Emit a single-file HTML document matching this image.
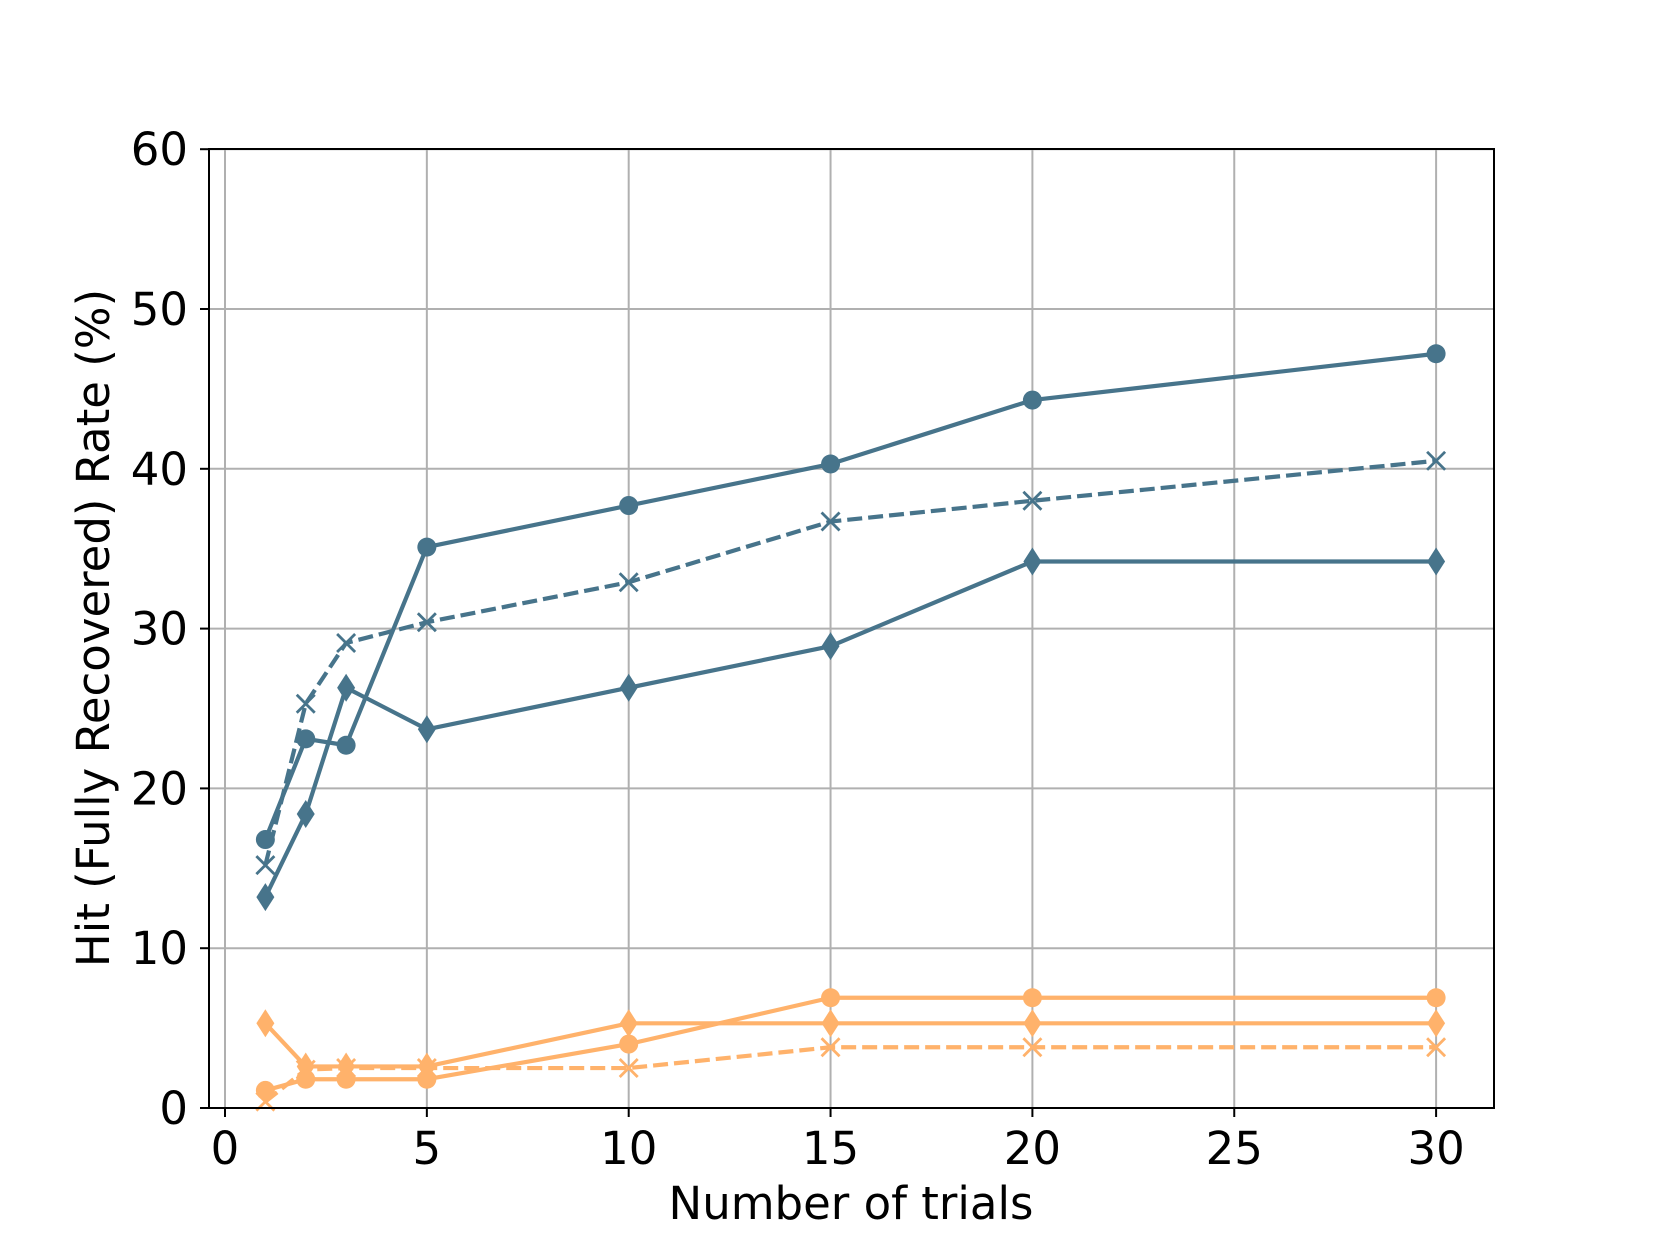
<!DOCTYPE html>
<html><head><meta charset="utf-8"><style>
body{margin:0;background:#fff}
svg{display:block}
text{font-family:"DejaVu Sans","Liberation Sans",sans-serif;fill:#000}
</style></head><body>
<svg id="chart" width="1661" height="1246" xmlns="http://www.w3.org/2000/svg">
<g id="grid"></g>
<g id="series"></g>
<rect x="209" y="149" width="1285" height="959" fill="none" stroke="#000" stroke-width="2"/>
<g id="ticks"></g>
<text x="851" y="1219" font-size="45" text-anchor="middle">Number of trials</text>
<text transform="translate(109,628) rotate(-90)" font-size="45" text-anchor="middle">Hit (Fully Recovered) Rate (%)</text>
</svg>
<script>
const trials=[1,2,3,5,10,15,20,30];
const blueCircle=[16.8,23.1,22.7,35.1,37.7,40.3,44.3,47.2];
const blueCross=[15.2,25.3,29.1,30.4,32.9,36.7,38.0,40.5];
const blueDiamond=[13.2,18.4,26.3,23.7,26.3,28.9,34.2,34.2];
const orangeCircle=[1.1,1.8,1.8,1.8,4.0,6.9,6.9,6.9];
const orangeDiamond=[5.3,2.6,2.6,2.6,5.3,5.3,5.3,5.3];
const orangeCross=[0.4,2.4,2.5,2.5,2.5,3.8,3.8,3.8];
const xTicks=[0,5,10,15,20,25,30];
const yTicks=[0,10,20,30,40,50,60];
const X=v=>225+(v)*40.37, Y=v=>1108-v*15.98;
const NS="http://www.w3.org/2000/svg";
function mk(p,t,a){const e=document.createElementNS(NS,t);for(const k in a)e.setAttribute(k,a[k]);p.appendChild(e);return e;}
const grid=document.getElementById('grid'),ticks=document.getElementById('ticks'),ser=document.getElementById('series');
xTicks.forEach(v=>{
 const g=mk(grid,'line',{x1:X(v),x2:X(v),y1:149,y2:1108,stroke:'#b0b0b0','stroke-width':2});
 
 
 const t=mk(ticks,'line',{x1:X(v),x2:X(v),y1:1108,y2:1117,stroke:'#000','stroke-width':2});
 
 
 const l=mk(ticks,'text',{x:X(v),y:1164,'font-size':45,'text-anchor':'middle'});l.textContent=v;
 
 
});
yTicks.forEach(v=>{
 const g=mk(grid,'line',{x1:209,x2:1494,y1:Y(v),y2:Y(v),stroke:'#b0b0b0','stroke-width':2});
 
 
 const t=mk(ticks,'line',{x1:200,x2:209,y1:Y(v),y2:Y(v),stroke:'#000','stroke-width':2});
 
 
 const l=mk(ticks,'text',{x:188,y:Y(v)+16,'font-size':45,'text-anchor':'end'});l.textContent=v;
 
 
});
function draw(vals,color,marker,dash,name){
 const g=mk(ser,'g',{});
 
 
 const pts=trials.map((t,i)=>X(t)+','+Y(vals[i])).join(' ');
 const a={points:pts,fill:'none',stroke:color,'stroke-width':4.2,'stroke-linejoin':'round'};
 if(dash)a['stroke-dasharray']='15,6';
 mk(g,'polyline',a);
 trials.forEach((t,i)=>{
  const x=X(t),y=Y(vals[i]);let m;
  if(marker==='o')m=mk(g,'circle',{cx:x,cy:y,r:9.5,fill:color});
  else if(marker==='d')m=mk(g,'polygon',{points:`${x},${y-14} ${x+9},${y} ${x},${y+14} ${x-9},${y}`,fill:color});
  else m=mk(g,'path',{d:`M${x-9},${y-9}L${x+9},${y+9}M${x-9},${y+9}L${x+9},${y-9}`,stroke:color,'stroke-width':2.8,fill:'none'});
  
  
 });
}
const B='#47748b',O='#ffb26b';
draw(orangeCross,O,'x',true,'series-orange-cross');
draw(orangeDiamond,O,'d',false,'series-orange-diamond');
draw(orangeCircle,O,'o',false,'series-orange-circle');
draw(blueCross,B,'x',true,'series-blue-cross');
draw(blueDiamond,B,'d',false,'series-blue-diamond');
draw(blueCircle,B,'o',false,'series-blue-circle');
</script>
</body></html>
